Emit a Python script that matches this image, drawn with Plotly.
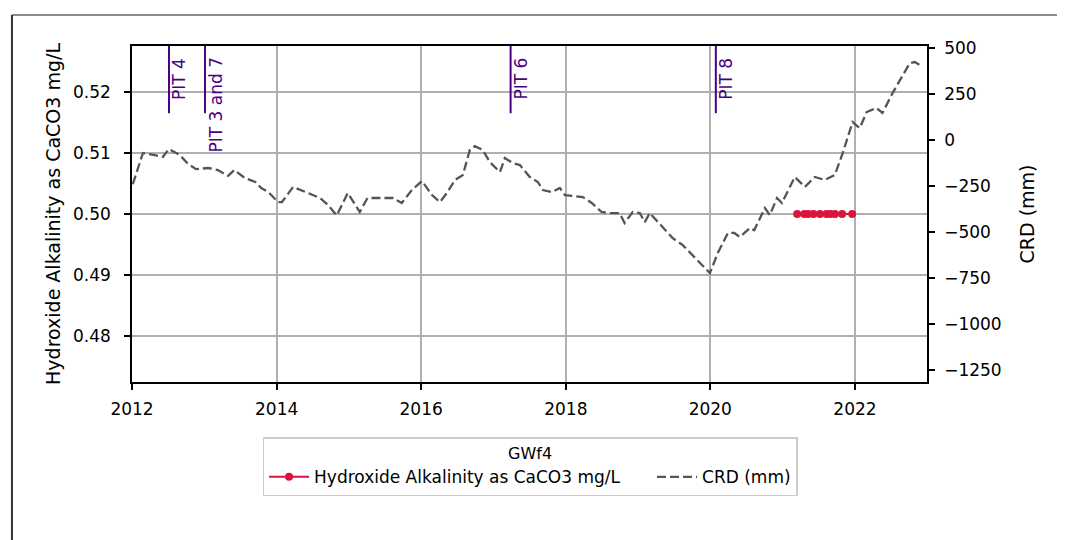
import plotly.graph_objects as go

# ---------------- data ----------------
crd_dates = [
    "2012-01-05", "2012-02-25", "2012-04-25", "2012-06-05", "2012-07-05", "2012-08-30",
    "2012-10-10", "2012-11-20", "2013-01-20", "2013-03-10", "2013-05-01", "2013-06-01",
    "2013-07-25", "2013-09-15", "2013-10-15", "2013-11-20", "2014-01-08", "2014-01-28",
    "2014-03-25", "2014-06-08", "2014-08-08", "2014-09-17", "2014-11-01", "2014-12-26",
    "2015-02-25", "2015-04-05", "2015-06-20", "2015-08-10", "2015-09-25", "2015-11-15",
    "2016-01-05", "2016-02-25", "2016-04-05", "2016-05-10", "2016-06-20", "2016-07-30",
    "2016-09-03", "2016-09-28", "2016-11-07", "2016-12-13", "2017-02-02", "2017-02-27",
    "2017-04-08", "2017-05-14", "2017-07-03", "2017-08-13", "2017-09-07", "2017-10-23",
    "2017-12-02", "2017-12-28", "2018-02-06", "2018-03-28", "2018-05-12", "2018-07-01",
    "2018-08-10", "2018-09-30", "2018-10-25", "2018-12-05", "2019-01-10", "2019-02-04",
    "2019-03-01", "2019-05-05", "2019-06-25", "2019-08-15", "2019-09-20", "2019-11-10",
    "2019-12-30", "2020-02-08", "2020-03-30", "2020-05-01", "2020-05-30", "2020-07-20",
    "2020-08-10", "2020-10-03", "2020-10-28", "2020-12-03", "2020-12-28", "2021-03-03",
    "2021-04-23", "2021-06-12", "2021-08-02", "2021-09-21", "2021-10-31", "2021-12-20",
    "2022-01-25", "2022-03-01", "2022-04-20", "2022-05-20", "2022-07-10", "2022-08-15",
    "2022-10-05", "2022-10-30", "2022-11-25",
]
crd_values = [
    -240, -71, -82, -92, -49, -82,
    -130, -158, -152, -163, -195, -163,
    -207, -228, -261, -283, -337, -337,
    -255, -288, -315, -353, -410, -288,
    -391, -315, -315, -315, -342, -272,
    -223, -299, -337, -288, -217, -190,
    -54, -33, -54, -120, -174, -98,
    -125, -136, -201, -228, -272, -283,
    -261, -299, -304, -310, -342, -391,
    -397, -397, -451, -391, -397, -446,
    -397, -473, -533, -571, -609, -668,
    -723, -614, -505, -505, -527, -478,
    -490, -370, -408, -315, -342, -201,
    -255, -201, -217, -190, -71, 98,
    65, 152, 174, 147, 255, 326,
    418, 424, 408,
]

hydroxide_dates = [
    "2021-03-15", "2021-04-20", "2021-05-10", "2021-06-05", "2021-07-08",
    "2021-08-10", "2021-08-30", "2021-09-22", "2021-10-28", "2021-12-18",
]
hydroxide_values = [0.5, 0.5, 0.5, 0.5, 0.5, 0.5, 0.5, 0.5, 0.5, 0.5]

pit_names = ["PIT 4", "PIT 3 and 7", "PIT 6", "PIT 8"]
pit_dates = ["2012-07-06", "2013-01-04", "2017-03-28", "2020-01-29"]

x_tick_vals = ["2012-01-01", "2014-01-01", "2016-01-01", "2018-01-01", "2020-01-01", "2022-01-01"]
x_tick_text = ["2012", "2014", "2016", "2018", "2020", "2022"]
left_tick_vals = [0.48, 0.49, 0.50, 0.51, 0.52]
right_tick_vals = [-1250, -1000, -750, -500, -250, 0, 250, 500]

# ---------------- figure ----------------
FONT = "DejaVu Sans"
PIT_COLOR = "#4B0082"
NBSP = "\u00a0"
fig = go.Figure()

fig.add_trace(go.Scatter(
    x=hydroxide_dates, y=hydroxide_values, mode="lines+markers",
    name="Hydroxide Alkalinity as CaCO3 mg/L" + NBSP * 5,
    line=dict(color="#DC143C", width=2), marker=dict(color="#DC143C", size=8),
    yaxis="y",
))
fig.add_trace(go.Scatter(
    x=crd_dates, y=crd_values, mode="lines", name="CRD (mm)",
    line=dict(color="#555555", width=2.3, dash="9px,4px"),
    yaxis="y2",
))

for name, d in zip(pit_names, pit_dates):
    fig.add_shape(type="line", xref="x", yref="y domain", x0=d, x1=d, y0=0.8, y1=1.0,
                  line=dict(color=PIT_COLOR, width=2))
    fig.add_annotation(x=d, xref="x", y=1.0, yref="y domain", text=name, showarrow=False,
                       textangle=-90, xanchor="left", yanchor="top", yshift=-10, xshift=-2,
                       font=dict(family=FONT, size=17, color=PIT_COLOR))

# outer frame decoration
fig.add_shape(type="line", xref="paper", yref="paper", x0=-0.151, x1=1.18, y0=1.092, y1=1.092,
              line=dict(color="#666666", width=1.5))
fig.add_shape(type="line", xref="paper", yref="paper", x0=-0.151, x1=-0.151, y0=1.092, y1=-0.48,
              line=dict(color="#333333", width=2))

axis_common = dict(
    showline=True, linecolor="black", linewidth=1.5,
    ticks="outside", ticklen=6, tickwidth=1.5, tickcolor="black",
    tickfont=dict(family=FONT, size=17, color="black"), zeroline=False,
)

fig.update_layout(
    width=1057, height=532,
    margin=dict(l=124, r=138, t=38, b=158),
    paper_bgcolor="white", plot_bgcolor="white",
    font=dict(family=FONT, size=17, color="black"),
    xaxis=dict(
        type="date", range=["2012-01-01", "2022-12-31"],
        tickvals=x_tick_vals, ticktext=x_tick_text,
        showgrid=True, gridcolor="#b0b0b0", gridwidth=1.5,
        mirror=True, ticklabelstandoff=5, **axis_common,
    ),
    yaxis=dict(
        range=[0.4725, 0.5275], tickvals=left_tick_vals, tickformat=".2f",
        showgrid=True, gridcolor="#b0b0b0", gridwidth=1.5,
        title=dict(text="Hydroxide Alkalinity as CaCO3 mg/L", font=dict(family=FONT, size=19), standoff=7),
        ticklabelstandoff=10,
        **axis_common,
    ),
    yaxis2=dict(
        overlaying="y", side="right", range=[-1315, 511], tickvals=right_tick_vals,
        showgrid=False,
        title=dict(text="CRD (mm)", font=dict(family=FONT, size=19), standoff=20),
        ticklabelstandoff=6,
        **axis_common,
    ),
    showlegend=True,
    legend=dict(
        orientation="h", xref="container", yref="container",
        x=0.4939, xanchor="center", y=0.1936, yanchor="top",
        bordercolor="#cccccc", borderwidth=1.5, bgcolor="white",
        font=dict(family=FONT, size=17),
        title=dict(text="GWf4", side="top center", font=dict(family=FONT, size=16)),
        itemwidth=40, tracegroupgap=0,
    ),
)

fig.write_html("out.html")
